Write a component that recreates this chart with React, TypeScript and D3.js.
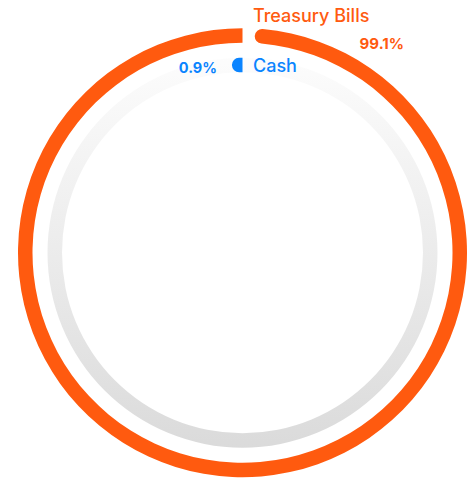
import React from 'react';
import * as d3 from 'd3';

// ---- data ----
const categories = ['Treasury Bills', 'Cash'];
const values = [99.1, 0.9];
const valueLabels = ['99.1%', '0.9%'];
const colors = ['#FF5A0F', '#0A84FF'];

// ---- layout ----
const W = 467;
const H = 481;
const cx = 242.5;
const cy = 252.7;
const ringOuter = [224.5, 195];
const thickness = 14.5;
// label positions
const nameX = [253, 253];
const nameY = [22, 72];
const valueX = [404, 217];
const valueY = [49, 72.5];

function barPath(r0: number, r1: number, start: number, end: number): string {
  const rm = (r0 + r1) / 2;
  const rc = (r1 - r0) / 2;
  const capA = Math.min(rc / rm, (end - start) * 0.9);
  const c = start + capA;
  const p = d3.path();
  p.moveTo(r1 * Math.sin(c), -r1 * Math.cos(c));
  p.arc(0, 0, r1, c - Math.PI / 2, end - Math.PI / 2, false);
  p.lineTo(r0 * Math.sin(end), -r0 * Math.cos(end));
  p.arc(0, 0, r0, end - Math.PI / 2, c - Math.PI / 2, true);
  const ox = r1 * Math.sin(c);
  const oy = -r1 * Math.cos(c);
  return `${p.toString()}A${rc},${rc} 0 0 1 ${ox},${oy}Z`;
}

export default function App() {
  const angle = d3.scaleLinear().domain([0, 100]).range([0, 2 * Math.PI]);
  const arc = d3.arc<any>();

  return (
    <svg
      width={W}
      height={H}
      viewBox={`0 0 ${W} ${H}`}
      style={{ position: 'absolute', left: 0, top: 0, background: '#fff' }}
    >
      <defs>
        <linearGradient
          id="trackGrad"
          gradientUnits="userSpaceOnUse"
          x1="0"
          y1={28 - cy}
          x2="0"
          y2={477 - cy}
        >
          <stop offset="0" stopColor="#ffffff" />
          <stop offset="1" stopColor="#d8d8d8" />
        </linearGradient>
      </defs>
      <g transform={`translate(${cx},${cy})`}>
        {/* track on inner ring */}
        <path
          d={
            arc({
              innerRadius: ringOuter[1] - thickness,
              outerRadius: ringOuter[1],
              startAngle: 0,
              endAngle: 2 * Math.PI,
            }) as string
          }
          fill="url(#trackGrad)"
        />
        {values.map((v, i) => {
          const r1 = ringOuter[i];
          const r0 = r1 - thickness;
          const span = angle(v);
          return <path key={categories[i]} d={barPath(r0, r1, -span, 0)} fill={colors[i]} />;
        })}
      </g>
      {categories.map((c, i) => (
        <g key={'lbl' + c}>
          <text
            x={nameX[i]}
            y={nameY[i]}
            fill={colors[i]}
            fontFamily="Inter, 'Open Sans', sans-serif"
            fontSize={18}
            fontWeight={500}
          >
            {c}
          </text>
          <text
            x={valueX[i]}
            y={valueY[i]}
            fill={colors[i]}
            textAnchor="end"
            fontFamily="Inter, 'Open Sans', sans-serif"
            fontSize={i === 0 ? 15 : 14.5}
            fontWeight={700}
          >
            {valueLabels[i]}
          </text>
        </g>
      ))}
    </svg>
  );
}
